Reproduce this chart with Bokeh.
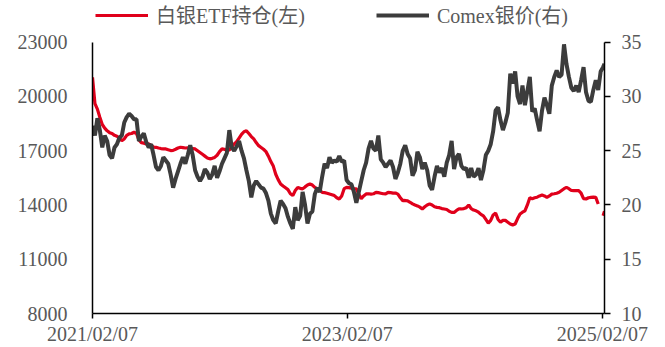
import pandas as pd
from bokeh.plotting import figure
from bokeh.models import (LinearAxis, Range1d, Legend, LegendItem, FixedTicker,
                          DatetimeTickFormatter, ColumnDataSource)
from bokeh.embed import file_html
from bokeh.resources import INLINE

# Weekly observations starting 2021-02-07, plus the last trading point
week_start = "2021-02-07"
last_day = "2025-02-13"

# Silver ETF holdings (tonnes, left axis)
etf_holdings = [
    21060, 19600, 19300, 18850, 18450, 18250, 18100, 18000, 17950, 17850,
    17800, 17700, 17560, 17650, 17850, 17930, 17950, 18020, 17950, 17600,
    17450, 17420, 17380, 17380, 17300, 17200, 17190, 17150, 17120, 17100,
    17100, 17050, 17010, 17020, 17080, 17150, 17190, 17170, 17150, 17160,
    17140, 17120, 17100, 17000, 16900, 16800, 16700, 16600, 16550, 16580,
    16630, 16750, 16950, 17100, 17080, 17020, 17050, 17200, 17380, 17500,
    17700, 17900, 18050, 18100, 17950, 17780, 17650, 17450, 17280, 17180,
    17080, 16950, 16700, 16400, 16150, 15700, 15400, 15160, 15050, 14950,
    14850, 14620, 14520, 14800, 14970, 14920, 14890, 15000, 15100, 15160,
    15100, 14970, 14900, 14800, 14700, 14680, 14650, 14610, 14570, 14520,
    14400, 14330, 14500, 14900, 14970, 14960, 14920, 14900, 14890, 14600,
    14350, 14500, 14610, 14620, 14600, 14620, 14700, 14680, 14650, 14620,
    14610, 14700, 14680, 14660, 14660, 14600, 14400, 14240, 14250, 14230,
    14150, 14060, 14000, 13950, 13880, 13780, 13900, 14000, 14060, 14000,
    13900, 13870, 13850, 13800, 13780, 13750, 13650, 13590, 13590, 13700,
    13780, 13780, 13800, 13850, 14000, 13800, 13720, 13680, 13600, 13480,
    13400, 13200, 13000, 13150, 13450, 13550, 13200, 13050, 13150, 13150,
    13050, 12950, 12900, 12950, 13250, 13500, 13600, 13680, 14000, 14400,
    14350, 14400, 14430, 14500, 14550, 14500, 14420, 14500, 14600, 14620,
    14650, 14700, 14800, 14900, 14970, 14900, 14800, 14790, 14800, 14790,
    14650, 14350, 14330, 14400, 14420, 14430, 14420, 14050, float("nan"), 13400,
    13650,
]

# COMEX silver price (USD/oz, right axis)
comex_silver = [
    27.3, 26.4, 28.0, 26.9, 25.3, 26.4, 25.9, 24.6, 24.3, 25.3,
    25.6, 26.2, 26.4, 27.6, 28.1, 28.4, 28.2, 27.9, 27.9, 25.9,
    26.3, 26.6, 25.8, 25.3, 25.6, 24.6, 23.5, 23.2, 23.6, 24.4,
    24.1, 23.8, 22.8, 21.6, 22.4, 23.1, 23.8, 24.4, 23.8, 24.6,
    25.5, 24.6, 23.2, 22.6, 22.2, 22.6, 23.3, 23.0, 22.4, 22.8,
    23.6, 22.5, 23.1, 23.8, 24.3, 24.8, 26.9, 25.3, 25.0, 25.4,
    25.9, 25.0, 24.3, 23.2, 22.2, 20.7, 21.8, 22.2, 21.9, 21.6,
    21.5, 21.1, 20.4, 19.2, 18.6, 18.3, 19.4, 20.4, 20.1, 19.7,
    18.9, 18.3, 17.8, 19.8, 18.6, 19.0, 21.2, 20.0, 18.3, 19.2,
    19.4, 21.0, 21.6, 21.2, 22.6, 23.8, 23.4, 24.4, 23.9, 24.1,
    24.0, 24.5, 24.0, 24.1, 22.3, 22.0, 21.9, 21.2, 20.2, 21.2,
    22.2, 23.2, 23.9, 25.2, 25.9, 25.2, 25.0, 26.4, 24.2, 23.9,
    23.5, 23.8, 24.1, 23.5, 22.4, 23.0, 23.8, 25.0, 25.5, 24.7,
    24.3, 22.7, 23.2, 24.9, 24.4, 23.3, 23.9, 23.2, 21.8, 21.4,
    22.6, 23.6, 23.0, 23.4, 22.6, 23.9, 24.6, 25.9, 23.3, 24.4,
    24.7, 23.6, 23.3, 23.4, 22.5, 23.4, 22.6, 22.8, 23.4, 22.3,
    23.2, 24.6, 25.0, 25.6, 26.8, 28.7, 29.0, 27.8, 26.9, 27.6,
    28.5, 32.1, 31.2, 32.3, 30.0, 29.3, 31.0, 29.2, 30.5, 31.8,
    28.6, 28.9, 27.8, 26.8, 28.7, 29.9, 29.2, 28.4, 31.0, 31.8,
    32.4, 31.8, 32.0, 34.8, 33.0, 31.8, 30.8, 30.5, 31.0, 30.4,
    31.5, 32.7, 30.4, 29.6, 29.5, 30.6, 31.5, 30.6, 32.3, 32.7,
    33.0,
]

date_ticks = ["2021-02-07", "2023-02-07", "2025-02-07"]
left_ticks = [8000, 11000, 14000, 17000, 20000, 23000]
right_ticks = [10, 15, 20, 25, 30, 35]

dates = list(pd.date_range(week_start, periods=len(etf_holdings) - 1, freq="7D")) + [pd.Timestamp(last_day)]
source = ColumnDataSource(data=dict(date=dates, etf=etf_holdings, price=comex_silver))

AXIS_FONT = "Liberation Serif"
LEGEND_FONT = "Liberation Serif, Noto Sans CJK SC"
TEXT_GRAY = "#595959"
RED = "#E0001B"
DARK = "#3C3C3C"

# The frame runs up to the top edge so the legend row can sit inside it;
# the axes themselves are bounded to the tick span.
FRAME_H = 313.0      # frame height in px (top edge of page to the x axis)
HEAD = 41.7          # px between frame top and the highest tick
span_px = FRAME_H - HEAD
left_top = left_ticks[-1] + (left_ticks[-1] - left_ticks[0]) * HEAD / span_px
right_top = right_ticks[-1] + (right_ticks[-1] - right_ticks[0]) * HEAD / span_px

p = figure(width=665, height=347, x_axis_type="datetime",
           x_range=Range1d(pd.Timestamp(week_start), pd.Timestamp(last_day)),
           y_range=Range1d(left_ticks[0], left_top),
           output_backend="svg", toolbar_location=None,
           min_border_left=92, min_border_right=61, min_border_top=0, min_border_bottom=34)
p.extra_y_ranges = {"price": Range1d(right_ticks[0], right_top)}
p.outline_line_color = None
p.xgrid.visible = False
p.ygrid.visible = False
p.background_fill_color = "white"
p.border_fill_color = "white"

r_etf = p.line("date", "etf", source=source, line_color=RED, line_width=3.2)
r_price = p.line("date", "price", source=source, y_range_name="price",
                 line_color=DARK, line_width=4)

# bottom date axis
xa = p.xaxis[0]
xa.ticker = FixedTicker(ticks=[pd.Timestamp(d).value // 10**6 for d in date_ticks])
fmt = "%Y/%m/%d"
xa.formatter = DatetimeTickFormatter(milliseconds=fmt, seconds=fmt, minsec=fmt, minutes=fmt,
                                     hourmin=fmt, hours=fmt, days=fmt, months=fmt, years=fmt)
xa.major_tick_out = 5
xa.major_tick_in = 0
xa.minor_tick_out = 0
xa.minor_tick_in = 0
xa.major_label_standoff = 4

# left axis: holdings
ya = p.yaxis[0]
ya.ticker = FixedTicker(ticks=left_ticks)
ya.bounds = (left_ticks[0], left_ticks[-1])
ya.major_tick_out = 0
ya.major_tick_in = 0
ya.minor_tick_out = 0
ya.minor_tick_in = 0
ya.major_label_standoff = 25

# right axis: price
ra = LinearAxis(y_range_name="price", ticker=FixedTicker(ticks=right_ticks),
                bounds=(right_ticks[0], right_ticks[-1]))
ra.major_tick_out = 6
ra.major_tick_in = 0
ra.minor_tick_out = 0
ra.minor_tick_in = 0
ra.major_label_standoff = 11
p.add_layout(ra, "right")

for ax in (xa, ya, ra):
    ax.axis_line_color = "black"
    ax.axis_line_width = 1.5
    ax.major_tick_line_color = "black"
    ax.major_tick_line_width = 1.5
    ax.major_label_text_font = AXIS_FONT
    ax.major_label_text_font_size = "20px"
    ax.major_label_text_color = TEXT_GRAY

# legend row across the top of the frame
legend = Legend(items=[LegendItem(label="白银ETF持仓(左)", renderers=[r_etf]),
                       LegendItem(label="Comex银价(右)", renderers=[r_price])],
                orientation="horizontal", location=(3, 284),
                glyph_width=53, glyph_height=20, label_standoff=8, spacing=71,
                padding=0, margin=0, border_line_color=None, background_fill_alpha=0,
                label_text_font=LEGEND_FONT, label_text_font_size="20px",
                label_text_color=TEXT_GRAY)
p.add_layout(legend)

open("out.html", "w").write(file_html(p, INLINE))
